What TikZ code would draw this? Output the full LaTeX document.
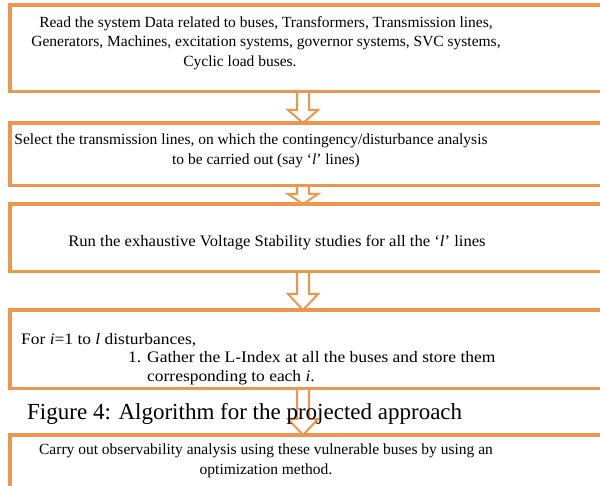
\documentclass[tikz,border=0pt]{standalone}
\usepackage{fontspec}
\setmainfont{Liberation Serif}
\usetikzlibrary{calc}
\definecolor{boxorange}{RGB}{237,150,80}

\tikzset{
  stepframe/.style={fill=white, anchor=north west, inner sep=0pt, minimum width=700pt},
  frameline/.style={draw=boxorange, line width=3.2pt, line join=miter},
  boxtext/.style={font=\fontsize{15.5}{19.5}\selectfont, inner sep=0pt, align=center},
  widetext/.style={font=\fontsize{16}{19.5}\selectfont\addfontfeature{FakeStretch=1.04},
    inner sep=0pt, align=center},
  listtext/.style={font=\fontsize{16}{18.5}\selectfont\addfontfeature{FakeStretch=1.09},
    inner sep=0pt, align=left},
  captiontext/.style={font=\fontsize{23}{27}\selectfont, inner sep=0pt},
  hollowarrow/.style={draw=boxorange, line width=2pt, line join=miter},
}

% frame of a step box that runs on past the right edge of the page
\newcommand{\openframe}[1]{%
  \draw[frameline] ([xshift=40pt]#1.north east) -- (#1.north west)
    -- (#1.south west) -- ([xshift=40pt]#1.south east);
}

% hollow block arrow between two stacked boxes: #1 upper box, #2 lower box, #3 head length
\newcommand{\blockdown}[3]{%
  \coordinate (atop) at (#1.south -| axis);
  \coordinate (atip) at (#2.north -| axis);
  \draw[hollowarrow] ($(atop)+(-6,0)$) -- ($(atip)+(-6,-#3)$) -- ($(atip)+(-15,-#3)$)
    -- (atip) -- ($(atip)+(15,-#3)$) -- ($(atip)+(6,-#3)$) -- ($(atop)+(6,0)$);
}

\begin{document}
\begin{tikzpicture}[x=1pt, y=-1pt]
\useasboundingbox (0,0) rectangle (600,486);
\clip (0,0) rectangle (600,486);

\coordinate (axis) at (303,0);

% the five step boxes
\node[stepframe, minimum height=86pt] (b1) at (10,5) {};
\node[stepframe, minimum height=62pt] (b2) at (10,123) {};
\node[stepframe, minimum height=67pt] (b3) at (10,204) {};
\node[stepframe, minimum height=78pt] (b4) at (10,310) {};
\node[stepframe, minimum height=80pt] (b5) at (10,435) {};
\foreach \b in {b1,b2,b3,b4,b5} {\openframe{\b}}

% texts of the steps
\node[boxtext, anchor=north] (t1) at (266,16)
  {Read the system Data related to buses, Transformers, Transmission lines,\\
   Generators, Machines, excitation systems, governor systems, SVC systems,\\
   Cyclic load buses.\hspace*{52pt}};
\node[boxtext, anchor=north] (t2) at (258,134)
  {Select the transmission lines, on which the contingency/disturbance analysis\hspace*{14pt}\\
   \hspace*{16pt}to be carried out (say ‘\textit{l}’ lines)};
\node[widetext, anchor=base] (t3) at (277,247)
  {Run the exhaustive Voltage Stability studies for all the ‘\textit{l}’ lines};
\node[listtext, anchor=north west] (t4) at (21,333)
  {For \textit{i}=1 to \textit{l} disturbances,\\
   \hspace*{107pt}\makebox[19pt][l]{1.}Gather the L-Index at all the buses and store them\\
   \hspace*{126pt}corresponding to each \textit{i}.};
\node[boxtext, anchor=north] (t5) at (266,444)
  {Carry out observability analysis using these vulnerable buses by using an\\
   optimization method.};

% arrows between the steps
\blockdown{b1}{b2}{13}
\blockdown{b2}{b3}{10}
\blockdown{b3}{b4}{16}
\blockdown{b4}{b5}{16}

% caption, printed over the last arrow
\node[captiontext, anchor=base west] (cap) at (27,420)
  {Figure 4: Algorithm for the projected approach};
\end{tikzpicture}
\end{document}
